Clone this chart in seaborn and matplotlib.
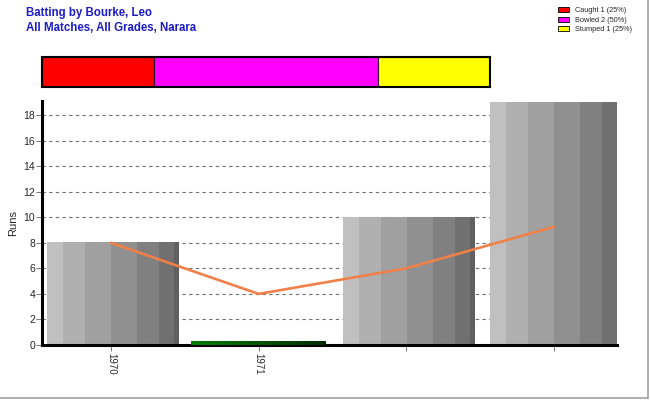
import numpy as np
import pandas as pd
import seaborn as sns
import matplotlib.pyplot as plt
from matplotlib.patches import Patch
from matplotlib.lines import Line2D

# data
seasons = ['1970', '1971', '', '']
runs = [8, 0, 10, 19]
running_avg = [8, 4, 6, 9.25]
ducks = [False, True, False, False]

dismissals = ['Caught', 'Bowled', 'Stumped']
dismissal_counts = [1, 2, 1]
dismissal_colors = ['#ff0000', '#ff00ff', '#ffff00']

sns.set_style('white')
plt.rcParams['font.family'] = ['Liberation Sans', 'DejaVu Sans']

df = pd.DataFrame({'slot': range(len(seasons)), 'runs': runs})

fig = plt.figure(figsize=(6.5, 4), dpi=100)
ax = fig.add_axes([0.0646, 0.1375, 0.8846, 0.61])

sns.barplot(data=df, x='slot', y='runs', color='#a0a0a0', width=0.89,
            errorbar=None, ax=ax, zorder=2)

# vertical gray stripes inside each bar
shades = np.array([0xc0, 0xb0, 0xa0, 0x90, 0x80, 0x70, 0x60]) / 255
widths = [16, 22, 26, 26, 22, 15, 5]
strip = np.repeat(shades, widths)
img = np.dstack([strip, strip, strip])
for bar in ax.patches:
    x0, w, h = bar.get_x(), bar.get_width(), bar.get_height()
    if h > 0:
        ax.imshow(img, extent=(x0 + 0.015, x0 + w + 0.015, 0, h),
                  aspect='auto', interpolation='nearest', zorder=2)
    bar.set_visible(False)

# dark green strip for ducks
green = np.linspace(0, 1, 100)
gimg = np.dstack([np.zeros_like(green), 0.5 - 0.33 * green,
                  np.zeros_like(green)])
for bar, duck in zip(ax.patches, ducks):
    if duck:
        x0, w = bar.get_x(), bar.get_width()
        ax.imshow(gimg, extent=(x0 - 0.01, x0 + w + 0.01, 0, 0.3),
                  aspect='auto', zorder=3)

sns.lineplot(x=df['slot'], y=running_avg, color='#f08048', linewidth=1.9,
             ax=ax, zorder=4)

ax.set_xlim(-0.467, 3.427)
ax.set_ylim(0, 19.1)
ax.set_yticks(range(0, 19, 2))
ax.set_xticks(range(len(seasons)))
ax.set_xticklabels(seasons, rotation=270, fontsize=7, va='top')
ax.tick_params(axis='y', labelsize=7.5, length=4, width=0.6, color='#606060',
               left=True, pad=1)
ax.tick_params(axis='x', length=4, width=0.6, color='#606060', bottom=True,
               pad=2)
ax.set_xlabel('')
ax.set_ylabel('Runs', fontsize=8, labelpad=4)
ax.yaxis.grid(True, linestyle=(0, (3, 3)), color='#707070', linewidth=0.8,
              zorder=0)
ax.set_axisbelow(True)
for side in ['top', 'right']:
    ax.spines[side].set_visible(False)
for side in ['left', 'bottom']:
    ax.spines[side].set_linewidth(2.2)
    ax.spines[side].set_color('black')

# dismissal summary bar
bx = fig.add_axes([0.0646, 0.7825, 0.689, 0.075])
lefts = np.concatenate([[0], np.cumsum(dismissal_counts)[:-1]])
bx.barh(0, dismissal_counts, left=lefts, color=dismissal_colors, height=1,
        edgecolor='#300030', linewidth=0.8)
bx.set_xlim(0, sum(dismissal_counts))
bx.set_ylim(-0.5, 0.5)
bx.set_xticks([])
bx.set_yticks([])
for sp in bx.spines.values():
    sp.set_linewidth(1.5)
    sp.set_color('black')

total = sum(dismissal_counts)
labels = [f'{d} {c} ({c * 100 // total}%)' for d, c in zip(dismissals, dismissal_counts)]
handles = [Patch(facecolor=c, edgecolor='black', linewidth=0.6) for c in dismissal_colors]
fig.legend(handles, labels, loc='upper left', bbox_to_anchor=(0.85, 0.995),
           frameon=False, fontsize=5.3, handlelength=1.5, handleheight=0.7,
           labelspacing=0.3, handletextpad=0.8, borderpad=0.2)

fig.text(0.04, 0.968, 'Batting by Bourke, Leo', color='#1c1cc8',
         fontsize=8.3, fontweight='bold', va='center')
fig.text(0.04, 0.93, 'All Matches, All Grades, Narara', color='#1c1cc8',
         fontsize=8.3, fontweight='bold', va='center')

# frame lines at right and bottom
fig.add_artist(Line2D([0.997, 0.997], [0.004, 1], transform=fig.transFigure,
                      color='#a0a0a0', linewidth=1.2))
fig.add_artist(Line2D([0, 0.997], [0.004, 0.004], transform=fig.transFigure,
                      color='#a0a0a0', linewidth=1.2))

fig.savefig('out.png', dpi=100)
